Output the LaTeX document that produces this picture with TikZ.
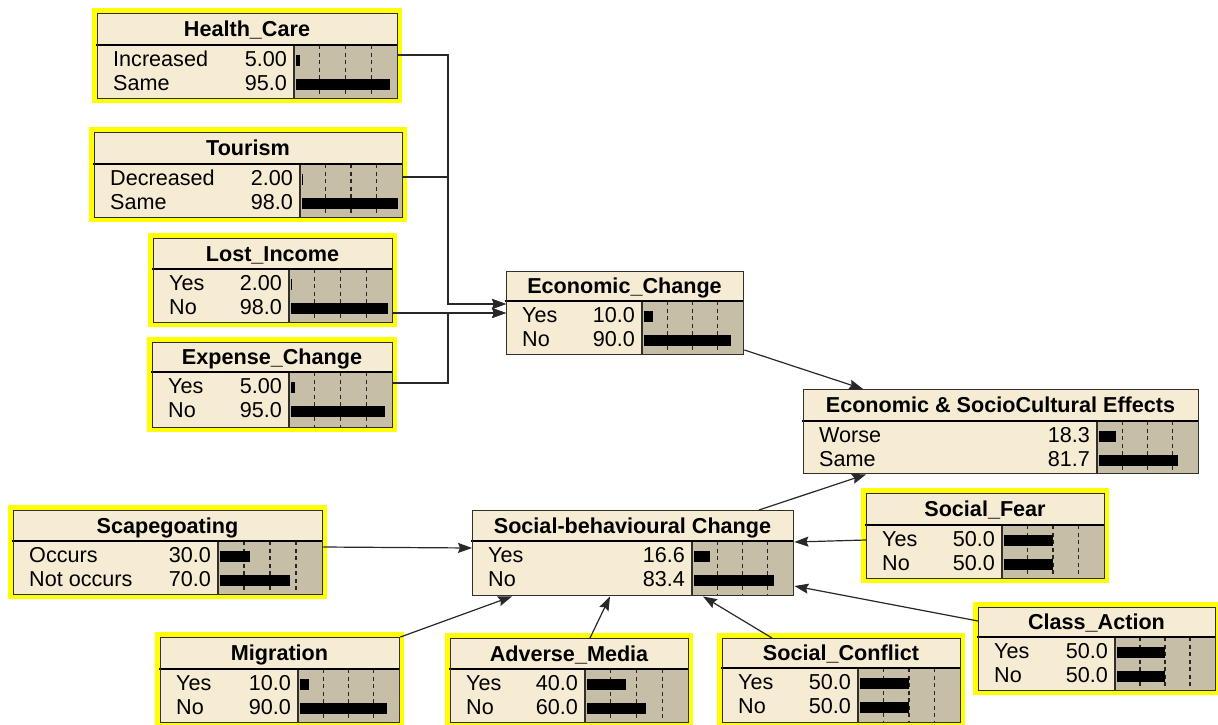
\documentclass[tikz,border=0pt]{standalone}
\usepackage{fontspec}
\setmainfont{Liberation Sans}
\usetikzlibrary{arrows.meta,calc}

\definecolor{paneltan}{RGB}{246,236,212}
\definecolor{bararea}{RGB}{199,190,168}
\definecolor{framecol}{RGB}{50,46,42}
\definecolor{hilite}{RGB}{255,255,0}
\definecolor{wirecol}{RGB}{40,40,40}

\tikzset{
  boxnode/.style={draw=framecol, line width=1.4pt, inner sep=0pt, fill=none},
  titletext/.style={inner sep=0pt, font=\fontsize{21.6}{25}\selectfont\bfseries},
  statetext/.style={inner sep=0pt, font=\fontsize{21.6}{25}\selectfont},
  tickline/.style={draw=black!85, line width=1.1pt, dash pattern=on 4pt off 3.5pt},
  divider/.style={draw=black, line width=1.6pt},
  wire/.style={draw=wirecol, line width=1.2pt},
  arrowwire/.style={wire, -{Stealth[length=14pt,width=10pt,inset=2pt]}},
}

% yellow highlight behind a box: x1, y1, x2, y2
\newcommand\netglow[4]{%
  \fill[hilite] (#1-5,#2-5) rectangle (#3+5,#4+5);%
}

% belief box: name, x1, y1, x2, y2, divider y, bar-area left x, title
\newcommand\netbox[8]{%
  \def\nbA{#2}\def\nbB{#3}\def\nbC{#4}\def\nbD{#5}\def\nbS{#6}\def\nbL{#7}%
  \fill[paneltan] (#2,#3) rectangle (#4,#5);
  \fill[bararea] (#7,#6) rectangle (#4,#5);
  \foreach \k in {1,2,3}{%
    \draw[tickline] ({#7+\k*(#4-#7)/4},#6) -- ({#7+\k*(#4-#7)/4},#5);
  }
  \draw[framecol, line width=1.2pt] (#7,#6) -- (#7,#5);
  \draw[divider] (#2-1.5,#6) -- (#4,#6);
  \node[titletext, anchor=base] at ({(#2+#4)/2},{(#3+#6)/2+7.8}) {#8};
  \node[boxnode, minimum width=#4-#2, minimum height=#5-#3, anchor=north west] (#1) at (#2,#3) {};
}

% one state row: row number, state, value, fraction
\newcommand\netrow[4]{%
  \pgfmathsetmacro\ry{\nbS+14+(#1-1)*24}%
  \pgfmathsetmacro\by{\nbS+15.5+(#1-1)*24}%
  \node[statetext, anchor=base west] at (\nbA+16,\ry+7.6) {#2};
  \node[statetext, anchor=base east] at (\nbL-7,\ry+7.6) {#3};
  \fill[black] (\nbL+1.5,\by-5.5) rectangle ({\nbL+1.5+#4*(\nbC-\nbL-4)},\by+5.5);
}

\begin{document}
\begin{tikzpicture}[x=1pt,y=-1pt]
\useasboundingbox (0,0) rectangle (1218,724);
\fill[white] (0,0) rectangle (1218,724);

% ---- economic inputs ----
\netglow{97}{13}{397}{98}
\netbox{hc}{97}{13}{397}{98}{45}{294}{Health\_Care}
\netrow{1}{Increased}{5.00}{0.05}
\netrow{2}{Same}{95.0}{0.95}

\netglow{94}{132}{402}{217}
\netbox{tour}{94}{132}{402}{217}{164}{300}{Tourism}
\netrow{1}{Decreased}{2.00}{0.02}
\netrow{2}{Same}{98.0}{0.98}

\netglow{153}{238}{392}{322}
\netbox{li}{153}{238}{392}{322}{269}{289}{Lost\_Income}
\netrow{1}{Yes}{2.00}{0.02}
\netrow{2}{No}{98.0}{0.98}

\netglow{152}{342}{392}{427}
\netbox{ec}{152}{342}{392}{427}{372}{289}{Expense\_Change}
\netrow{1}{Yes}{5.00}{0.05}
\netrow{2}{No}{95.0}{0.95}

% ---- intermediate and outcome ----
\netbox{econ}{506}{271}{743}{354}{301}{642}{Economic\_Change}
\netrow{1}{Yes}{10.0}{0.10}
\netrow{2}{No}{90.0}{0.90}

\netbox{esc}{803}{389}{1198}{473}{421}{1097}{Economic \& SocioCultural Effects}
\netrow{1}{Worse}{18.3}{0.183}
\netrow{2}{Same}{81.7}{0.817}

\netbox{sbc}{472}{510}{793}{595}{541}{692}{Social-behavioural Change}
\netrow{1}{Yes}{16.6}{0.166}
\netrow{2}{No}{83.4}{0.834}

% ---- social inputs ----
\netglow{866}{493}{1104}{578}
\netbox{sf}{866}{493}{1104}{578}{525}{1002}{Social\_Fear}
\netrow{1}{Yes}{50.0}{0.50}
\netrow{2}{No}{50.0}{0.50}

\netglow{13}{510}{322}{594}
\netbox{sc}{13}{510}{322}{594}{541}{218}{Scapegoating}
\netrow{1}{Occurs}{30.0}{0.30}
\netrow{2}{Not occurs}{70.0}{0.70}

\netglow{160}{637}{399}{722}
\netbox{mig}{160}{637}{399}{722}{669}{298}{Migration}
\netrow{1}{Yes}{10.0}{0.10}
\netrow{2}{No}{90.0}{0.90}

\netglow{450}{638}{688}{722}
\netbox{am}{450}{638}{688}{722}{669}{585}{Adverse\_Media}
\netrow{1}{Yes}{40.0}{0.40}
\netrow{2}{No}{60.0}{0.60}

\netglow{722}{638}{960}{722}
\netbox{scf}{722}{638}{960}{722}{668}{858}{Social\_Conflict}
\netrow{1}{Yes}{50.0}{0.50}
\netrow{2}{No}{50.0}{0.50}

\netglow{978}{607}{1215}{690}
\netbox{ca}{978}{607}{1215}{690}{637}{1115}{Class\_Action}
\netrow{1}{Yes}{50.0}{0.50}
\netrow{2}{No}{50.0}{0.50}

% ---- links into Economic_Change (shared bus) ----
\draw[arrowwire] (hc.east |- 0,55) -| (448,304) -- (econ.west |- 0,304);
\draw[arrowwire] (tour.east |- 0,177) -| (448,304) -- (econ.west |- 0,304);
\draw[arrowwire] (ec.east |- 0,383) -| (448,313) -- (econ.west |- 0,313);
\draw[arrowwire] (li.east |- 0,313) -- (econ.west |- 0,313);

% ---- links into the outcome ----
\draw[arrowwire] (econ.east |- 0,350) -- (esc.north -| 863,0);
\draw[arrowwire] (sbc.north -| 759,0) -- (esc.south -| 866,0);

% ---- links into Social-behavioural Change ----
\draw[arrowwire] (sc.east |- 0,547) -- (sbc.west |- 0,548);
\draw[arrowwire] (sf.west |- 0,540) -- (sbc.east |- 0,542);
\draw[arrowwire] (ca.west |- 0,621) -- (sbc.east |- 0,586);
\draw[arrowwire] (scf.north -| 772,0) -- (sbc.south -| 703,0);
\draw[arrowwire] (am.north -| 590,0) -- (sbc.south -| 610,0);
\draw[arrowwire] (mig.north east) -- (sbc.south -| 512,0);
\end{tikzpicture}
\end{document}
